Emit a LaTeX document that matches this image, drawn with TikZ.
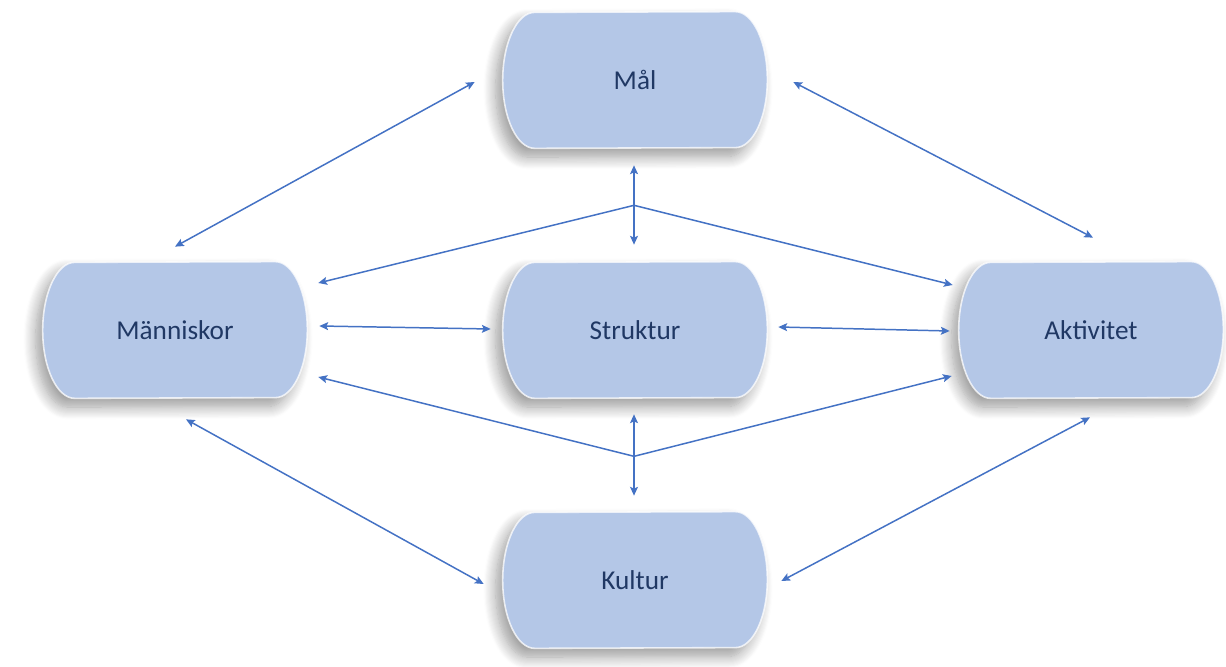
\documentclass[tikz,border=0pt]{standalone}
\usepackage{fontspec}
\setmainfont{Carlito}
\usetikzlibrary{calc,arrows.meta,backgrounds,shadows.blur}

\definecolor{pillblue}{HTML}{B4C7E7}
\definecolor{linkblue}{HTML}{4472C4}
\definecolor{labelnavy}{HTML}{203864}

\tikzset{
  pill/.style={minimum width=5.28cm, minimum height=2.72cm, inner sep=0pt,
    text=labelnavy, font=\fontsize{15.5}{18}\selectfont},
  pillbody/.style={fill=pillblue, draw=white, draw opacity=0.75, line width=0.9pt,
    blur shadow={shadow xshift=-4pt, shadow yshift=-5pt, shadow blur radius=7pt,
      shadow blur steps=12, shadow opacity=40}},
  link/.style={draw=linkblue, line width=0.85pt},
  both/.style={link, {Stealth[length=5pt,width=4.5pt,inset=1pt]}-{Stealth[length=5pt,width=4.5pt,inset=1pt]}},
  toend/.style={link, -{Stealth[length=5pt,width=4.5pt,inset=1pt]}}
}

\begin{document}
\begin{tikzpicture}[x=0.02cm, y=0.02cm]
\useasboundingbox (0,0) rectangle (1226,666);

% the five terms
\node[pill] (mal)  at (635,586) {Mål};
\node[pill] (mann) at (175,336) {Människor};
\node[pill] (str)  at (635,336) {Struktur};
\node[pill] (akt)  at (1091,336) {Aktivitet};
\node[pill] (kul)  at (635,86)  {Kultur};

% pill bodies with elliptic ends, behind the labels
\begin{pgfonlayer}{background}
\foreach \n in {mal,mann,str,akt,kul} {
  \path[pillbody] ($(\n.north east)+(-32,0)$)
    arc[start angle=90, end angle=-90, x radius=0.64cm, y radius=1.36cm]
    -- ($(\n.south west)+(32,0)$)
    arc[start angle=270, end angle=90, x radius=0.64cm, y radius=1.36cm]
    -- cycle;
}
\end{pgfonlayer}

% junctions above and below Struktur
\coordinate (jtop) at ($(mal.south)+(-1,-57)$);
\coordinate (jbot) at ($(str.south)+(-1,-58)$);

% outer ring
\draw[both] ($(mal.west)+(-28,-2)$) -- ($(mann.north)+(0,15)$);
\draw[both] ($(mal.east)+(26,-2)$) -- ($(akt.north)+(2,24)$);
\draw[both] ($(mann.south)+(11,-21)$) -- ($(kul.west)+(-19,-4)$);
\draw[both] ($(akt.south)+(-1,-19)$) -- ($(kul.east)+(14,-1)$);

% vertical links through Struktur
\draw[both] ($(mal.south)+(-1,-17)$) -- ($(str.north)+(-1,17)$);
\draw[both] ($(str.south)+(-1,-16)$) -- ($(kul.north)+(-1,16)$);

% horizontal links through Struktur
\draw[both] ($(mann.east)+(12,4)$) -- ($(str.west)+(-12,1)$);
\draw[both] ($(str.east)+(11,3)$) -- ($(akt.west)+(-9,-1)$);

% fan-out from the junctions
\draw[toend] (jtop) -- ($(mann.east)+(11,47)$);
\draw[toend] (jtop) -- ($(akt.west)+(-6,45)$);
\draw[toend] (jbot) -- ($(mann.east)+(11,-47)$);
\draw[toend] (jbot) -- ($(akt.west)+(-7,-46)$);
\end{tikzpicture}
\end{document}
